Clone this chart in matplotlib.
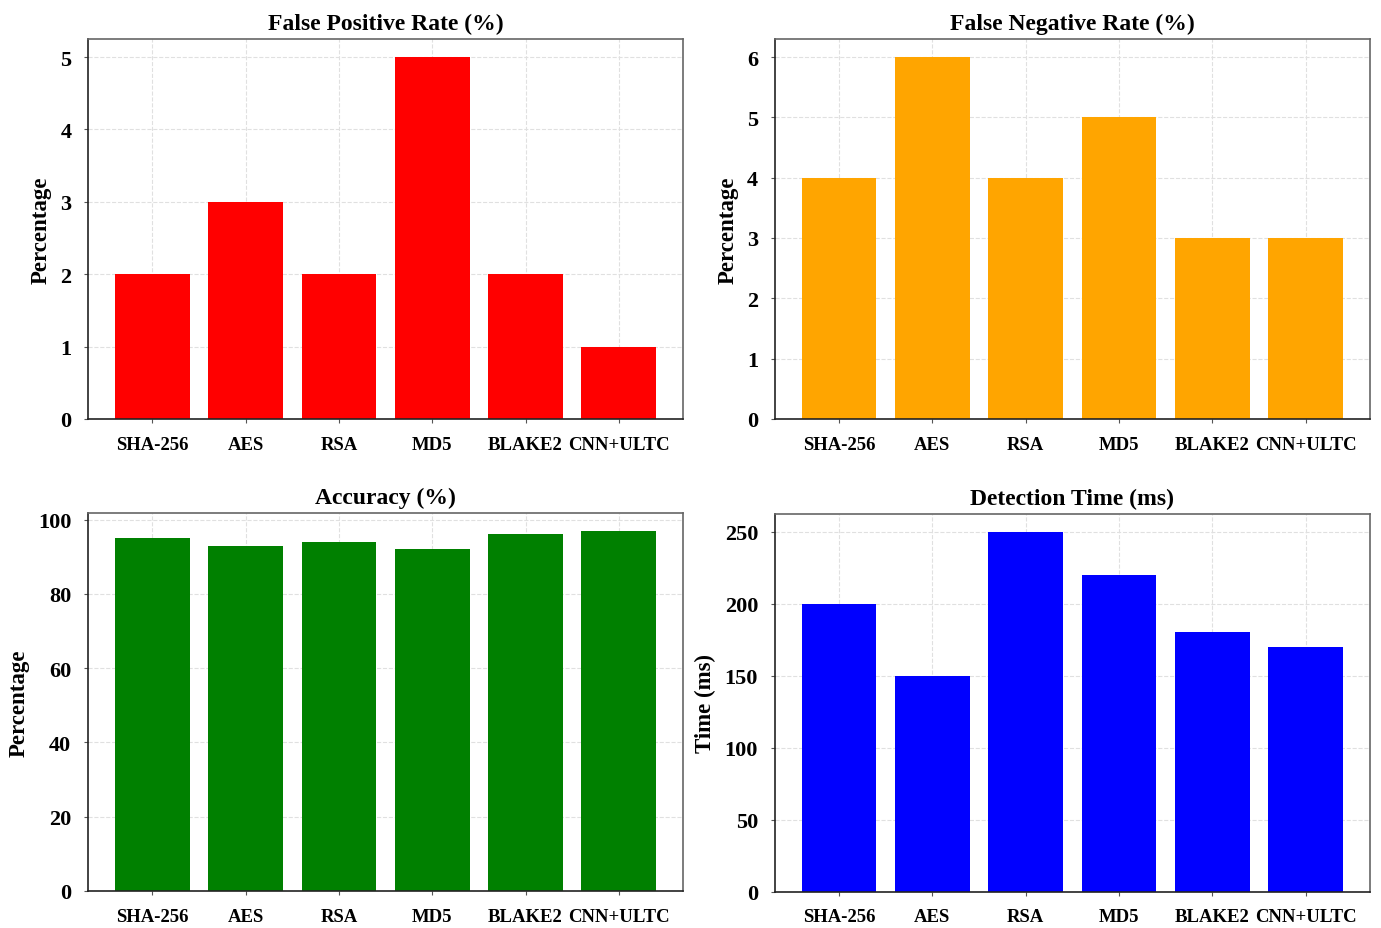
from matplotlib import pyplot as plt
import numpy as np

plt.rcParams['font.family'] = ['Liberation Serif', 'DejaVu Serif']
plt.rcParams['font.weight'] = 'bold'

methods      = ['SHA-256', 'AES', 'RSA', 'MD5', 'BLAKE2', 'CNN+ULTC']
fpr          = [2, 3, 2, 5, 2, 1]
fnr          = [4, 6, 4, 5, 3, 3]
accuracy     = [95, 93, 94, 92, 96, 97]
det_time     = [200, 150, 250, 220, 180, 170]

def bar_panel(ax, values, color, title, ylabel, yticks=None):
    # one bar chart per metric, same look for all four
    x = np.arange(len(methods))
    ax.bar(x, values, width=0.8, color=color, zorder=2)
    ax.set_xticks(x)
    ax.set_xticklabels(methods, fontsize=13.5, fontweight='bold')
    if yticks is not None:
        ax.set_yticks(yticks)
    for lab in ax.get_yticklabels():
        lab.set_fontsize(16)
        lab.set_fontweight('bold')
    ax.set_title(title, fontsize=17, fontweight='bold', pad=7)
    ax.set_ylabel(ylabel, fontsize=16.5, fontweight='bold', labelpad=6)
    ax.grid(True, ls='--', color='#e0e0e0', lw=0.8, zorder=0)
    ax.tick_params(axis='both', length=3, width=0.8, color='#555555')
    ax.tick_params(axis='x', pad=9)
    ax.tick_params(axis='y', pad=9)
    ax.spines['left'].set_color('#222222')
    ax.spines['bottom'].set_color('#222222')
    ax.spines['top'].set_color('#666666')
    ax.spines['right'].set_color('#666666')
    for s in ax.spines.values():
        s.set_linewidth(1.2)

fig = plt.figure(figsize=(13.81, 9.29), dpi=100)
ax1 = fig.add_axes([0.0637, 0.548, 0.431, 0.409])
ax2 = fig.add_axes([0.561, 0.548, 0.431, 0.409])
ax3 = fig.add_axes([0.0637, 0.040, 0.431, 0.407])
ax4 = fig.add_axes([0.561, 0.039, 0.431, 0.407])

bar_panel(ax1, fpr, 'red', 'False Positive Rate (%)', 'Percentage')
bar_panel(ax2, fnr, 'orange', 'False Negative Rate (%)', 'Percentage')
bar_panel(ax3, accuracy, 'green', 'Accuracy (%)', 'Percentage', [0, 20, 40, 60, 80, 100])
bar_panel(ax4, det_time, 'blue', 'Detection Time (ms)', 'Time (ms)', [0, 50, 100, 150, 200, 250])

plt.savefig('out.png', dpi=100)
